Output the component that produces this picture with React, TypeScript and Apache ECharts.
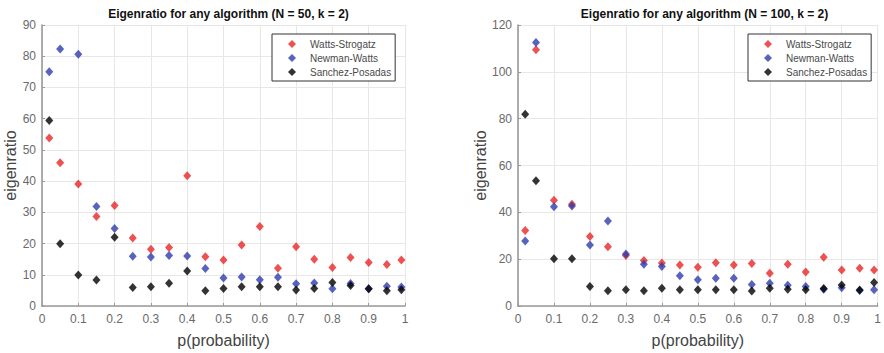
import React, { useEffect, useRef } from "react";
import * as echarts from "echarts";

const pValues = [0.02, 0.05, 0.1, 0.15, 0.2, 0.25, 0.3, 0.35, 0.4, 0.45, 0.5, 0.55, 0.6, 0.65, 0.7, 0.75, 0.8, 0.85, 0.9, 0.95, 0.99];
const seriesNames = ["Watts-Strogatz", "Newman-Watts", "Sanchez-Posadas"];
const seriesColors = ["#e82525", "#2d3cae", "#000000"];
const panelTitles = ["Eigenratio for any algorithm (N = 50, k = 2)", "Eigenratio for any algorithm (N = 100, k = 2)"];
const yMaxes = [90, 120];
const yIntervals = [10, 20];

// N = 50
const ws50 = [53.8, 45.9, 39.1, 28.7, 32.2, 21.8, 18.2, 18.7, 41.7, 15.8, 14.7, 19.5, 25.5, 12.1, 19.0, 15.0, 12.3, 15.5, 13.9, 13.3, 14.7];
const nw50 = [75.0, 82.3, 80.6, 31.9, 24.8, 15.9, 15.7, 16.2, 16.0, 12.0, 9.0, 9.3, 8.4, 9.2, 7.1, 7.4, 5.5, 7.2, 5.5, 6.3, 6.1];
const sp50 = [59.4, 19.9, 9.9, 8.3, 22.0, 5.9, 6.2, 7.3, 11.2, 4.9, 5.6, 6.2, 6.2, 6.2, 5.1, 5.6, 7.5, 6.6, 5.5, 4.9, 5.2];

// N = 100
const ws100 = [32.2, 109.4, 45.2, 43.5, 29.7, 25.3, 21.6, 19.4, 18.4, 17.5, 16.5, 18.5, 17.5, 18.2, 14.0, 17.8, 14.5, 20.8, 15.4, 16.1, 15.4];
const nw100 = [27.8, 112.5, 42.4, 42.7, 26.0, 36.3, 22.2, 17.8, 16.9, 12.9, 11.2, 11.9, 11.9, 9.2, 9.7, 8.9, 8.3, 7.1, 7.8, 6.6, 6.9];
const sp100 = [81.9, 53.5, 20.2, 20.2, 8.3, 6.5, 6.9, 6.5, 7.6, 6.9, 6.9, 6.9, 6.9, 6.4, 7.6, 7.2, 6.9, 7.5, 9.0, 6.8, 10.0];

const panels = [
  [ws50, nw50, sp50],
  [ws100, nw100, sp100],
];

const FONT = "'Liberation Sans', Arial, Helvetica, sans-serif";

export default function App() {
  const ref = useRef<HTMLDivElement>(null);

  useEffect(() => {
    if (!ref.current) return;
    const chart = echarts.init(ref.current, undefined, { renderer: "svg" });

    const grids = [
      { left: 42, right: 479, top: 25, bottom: 44 },
      { left: 518, right: 3, top: 25, bottom: 44 },
    ];
    const centers = [223.5, 699.5];
    const legendLefts = [272, 748];

    const axisCommon = {
      axisLine: { show: true, lineStyle: { color: "#9a9a9a", width: 1.6 } },
      axisTick: { show: true, inside: true, length: 3, lineStyle: { color: "#9a9a9a" } },
      splitLine: { show: true, lineStyle: { color: "#e7e7e7", width: 1 } },
      axisLabel: { color: "#6a6a6a", fontSize: 12, fontFamily: FONT },
      nameTextStyle: { color: "#444", fontSize: 16, fontFamily: FONT },
    };

    const xAxis = grids.map((_, i) => ({
      type: "value",
      gridIndex: i,
      min: 0,
      max: 1,
      interval: 0.1,
      name: "p(probability)",
      nameLocation: "middle",
      nameGap: 26,
      ...axisCommon,
      axisLabel: {
        ...axisCommon.axisLabel,
        margin: 7,
        formatter: (v: number) => String(Math.round(v * 10) / 10),
      },
    }));

    const yAxis = grids.map((_, i) => ({
      type: "value",
      gridIndex: i,
      min: 0,
      max: yMaxes[i],
      interval: yIntervals[i],
      name: "eigenratio",
      nameLocation: "middle",
      nameRotate: 90,
      nameGap: i === 0 ? 22 : 30,
      ...axisCommon,
      axisLabel: { ...axisCommon.axisLabel, margin: 6 },
    }));

    const series: any[] = [];
    panels.forEach((panel, gi) => {
      panel.forEach((vals, si) => {
        series.push({
          type: "scatter",
          name: seriesNames[si],
          xAxisIndex: gi,
          yAxisIndex: gi,
          symbol: "diamond",
          symbolSize: [8, 9],
          itemStyle: { color: seriesColors[si] },
          data: pValues.map((p, k) => [p, vals[k]]),
          z: 3 + si,
        });
      });
    });

    chart.setOption({
      animation: false,
      backgroundColor: "#ffffff",
      textStyle: { fontFamily: FONT },
      title: panelTitles.map((t, i) => ({
        text: t,
        left: centers[i],
        top: 3,
        textAlign: "center",
        textStyle: { fontSize: 12, fontWeight: "bold", color: "#111", fontFamily: FONT },
      })),
      legend: legendLefts.map((l) => ({
        data: seriesNames.map((n) => ({ name: n, icon: "diamond" })),
        orient: "vertical",
        left: l,
        top: 34,
        itemWidth: 8,
        itemHeight: 8,
        itemGap: 2,
        padding: [4, 4, 3, 16],
        borderColor: "#333",
        borderWidth: 1,
        backgroundColor: "#fff",
        selectedMode: false,
        textStyle: { fontSize: 10, color: "#4a4a4a", lineHeight: 12, padding: [0, 0, 0, 9], fontFamily: FONT },
      })),
      grid: grids,
      xAxis,
      yAxis,
      series,
    });

    return () => chart.dispose();
  }, []);

  return (
    <div
      ref={ref}
      style={{ position: "fixed", left: 0, top: 0, width: 884, height: 353 }}
    />
  );
}
